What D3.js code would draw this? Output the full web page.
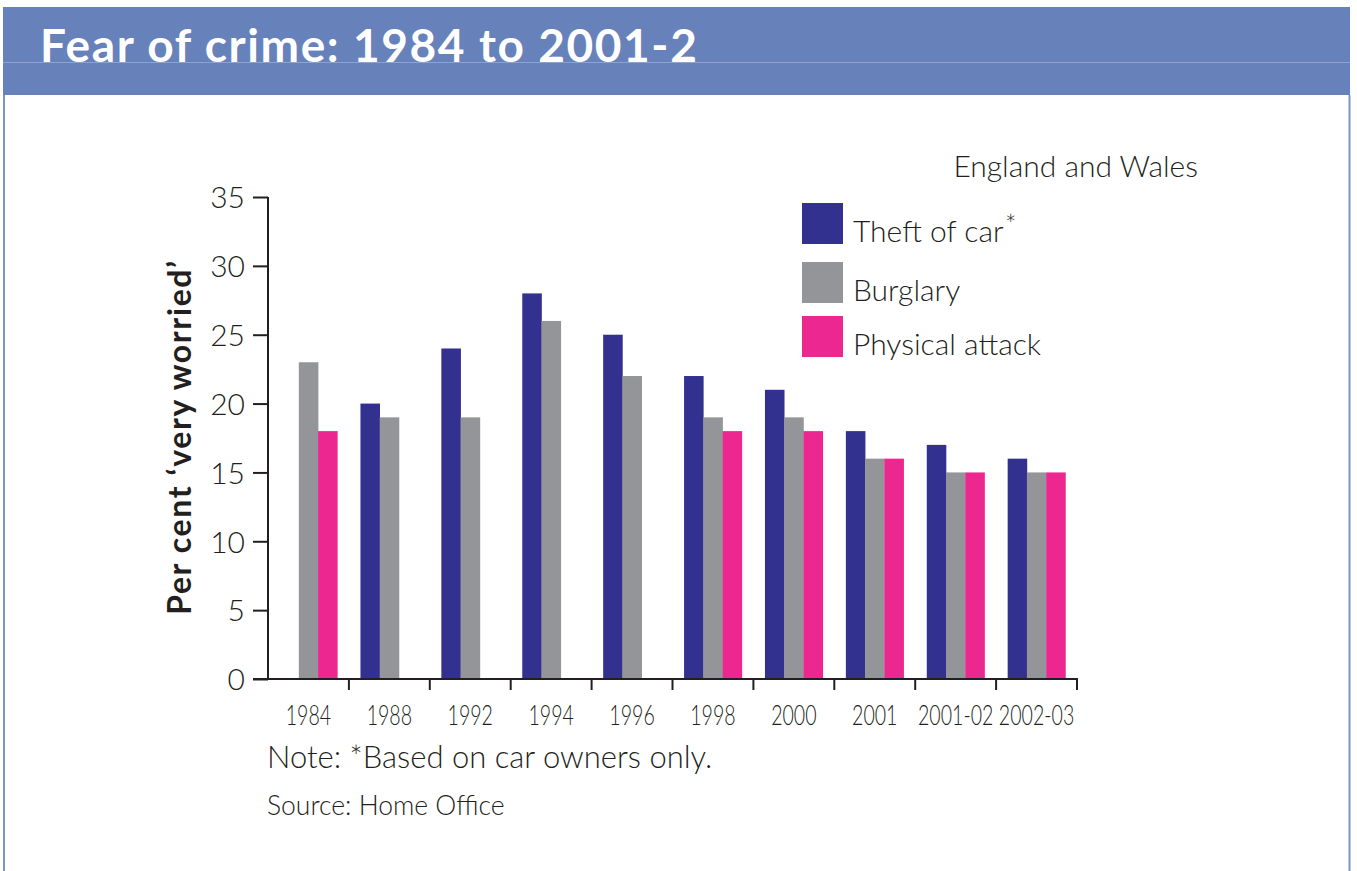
<!DOCTYPE html>
<html><head><meta charset="utf-8">
<script src="https://cdn.jsdelivr.net/npm/d3@7/dist/d3.min.js"></script>
<style>
html,body{margin:0;padding:0;background:#fff;}
svg{display:block;}
</style></head>
<body>
<svg id="chart" width="1357" height="871"></svg>
<script>
const categories = ["1984","1988","1992","1994","1996","1998","2000","2001","2001-02","2002-03"];
const theftOfCar = [null,20,24,28,25,22,21,18,17,16];
const burglary = [23,19,19,26,22,19,19,16,15,15];
const physicalAttack = [18,null,null,null,null,18,18,16,15,15];
const seriesNames = ["Theft of car","Burglary","Physical attack"];
const yTicks = [0,5,10,15,20,25,30,35];

const colors = ["#33318f","#939598","#ec2890"];
const series = [theftOfCar, burglary, physicalAttack];

const svg = d3.select("#chart");
const FONT = "Lato, 'Open Sans', sans-serif";
const INK = "#231f20";

// Frame & header
svg.append("rect").attr("x",3).attr("y",7).attr("width",1347).attr("height",88).attr("fill","#6781bb");
svg.append("line").attr("x1",3).attr("x2",1350).attr("y1",62.5).attr("y2",62.5).attr("stroke","#8fa3d2").attr("stroke-width",1);
svg.append("line").attr("x1",4).attr("x2",4).attr("y1",95).attr("y2",871).attr("stroke","#7b93c8").attr("stroke-width",2);
svg.append("line").attr("x1",1349.5).attr("x2",1349.5).attr("y1",95).attr("y2",871).attr("stroke","#7b93c8").attr("stroke-width",2);

svg.append("text").attr("x",40).attr("y",62).attr("fill","#fff")
  .attr("font-family",FONT).attr("font-weight",700).attr("font-size",46)
  .attr("letter-spacing",1.6)
  .text("Fear of crime: 1984 to 2001-2");

// Scales
const x0 = d3.scaleBand().domain(categories).range([268,1077]).paddingInner(0).paddingOuter(0);
const x1 = d3.scaleBand().domain(d3.range(3)).range([0,x0.bandwidth()]).paddingInner(0).paddingOuter(0.6);
const y = d3.scaleLinear().domain([0,35]).range([679,197]);

// Bars
const groups = svg.append("g").selectAll("g").data(categories).join("g")
  .attr("transform",d=>`translate(${x0(d)},0)`);
groups.selectAll("rect")
  .data((d,i)=>series.map((s,k)=>({k, v:s[i]})).filter(e=>e.v!=null))
  .join("rect")
  .attr("x",e=>x1(e.k)).attr("width",x1.bandwidth()+0.3)
  .attr("y",e=>y(e.v)).attr("height",e=>y(0)-y(e.v))
  .attr("fill",e=>colors[e.k]);

// Y axis
const yAxis = svg.append("g").attr("transform","translate(268,0)")
  .call(d3.axisLeft(y).tickValues(yTicks).tickSize(15).tickPadding(8).tickFormat(d3.format("d")));
yAxis.select(".domain").attr("stroke",INK).attr("stroke-width",2).attr("d","M0,197V679");
yAxis.selectAll(".tick line").attr("stroke",INK).attr("stroke-width",2);
yAxis.selectAll(".tick text").attr("font-family",FONT).attr("font-weight",300)
  .attr("font-size",30).attr("fill",INK).attr("dy","0.36em");

// X axis
const xTickScale = d3.scaleLinear().domain([0,categories.length]).range([268,1077]);
const xAxisG = svg.append("g").attr("transform","translate(0,679)");
xAxisG.append("line").attr("x1",253).attr("x2",1078).attr("y1",0).attr("y2",0)
  .attr("stroke",INK).attr("stroke-width",2);
xAxisG.selectAll("line.tk").data(d3.range(1,categories.length+1)).join("line").attr("class","tk")
  .attr("x1",d=>xTickScale(d)).attr("x2",d=>xTickScale(d)).attr("y1",0).attr("y2",11)
  .attr("stroke",INK).attr("stroke-width",2);
const xAxis = svg.append("g").attr("transform","translate(0,679)")
  .call(d3.axisBottom(x0).tickSize(0).tickPadding(0));
xAxis.select(".domain").remove();
xAxis.selectAll(".tick text").attr("font-family",FONT).attr("font-weight",300)
  .attr("font-size",28).attr("fill",INK).attr("y",46).attr("dy",0)
  .attr("transform","scale(0.7,1)");

// Y label
svg.append("text").attr("transform","translate(191,437) rotate(-90)")
  .attr("text-anchor","middle").attr("font-family",FONT).attr("font-weight",700)
  .attr("font-size",32).attr("letter-spacing",1.6).attr("fill",INK).text("Per cent \u2018very worried\u2019");

// England and Wales
svg.append("text").attr("x",1198).attr("y",177).attr("text-anchor","end")
  .attr("font-family",FONT).attr("font-weight",300).attr("font-size",30).attr("fill",INK)
  .text("England and Wales");

// Legend
const legendTops = [203,262,316];
const lg = svg.append("g").selectAll("g").data(seriesNames).join("g")
  .attr("transform",(d,i)=>`translate(802,${legendTops[i]})`);
lg.append("rect").attr("width",41).attr("height",41).attr("fill",(d,i)=>colors[i]);
const lt = lg.append("text").attr("x",51).attr("y",39).attr("font-family",FONT).attr("font-weight",300)
  .attr("font-size",30).attr("fill",INK).text(d=>d);
lt.filter((d,i)=>i===0).append("tspan").attr("font-size",28).attr("dy",-8).attr("dx",1).text("*");

// Notes
svg.append("text").attr("x",267).attr("y",768).attr("font-family",FONT).attr("font-weight",300)
  .attr("font-size",31).attr("fill",INK).text("Note: *Based on car owners only.");
svg.append("text").attr("x",267).attr("y",815).attr("font-family",FONT).attr("font-weight",300)
  .attr("font-size",26.5).attr("fill",INK).text("Source: Home Office");
</script>
</body></html>
